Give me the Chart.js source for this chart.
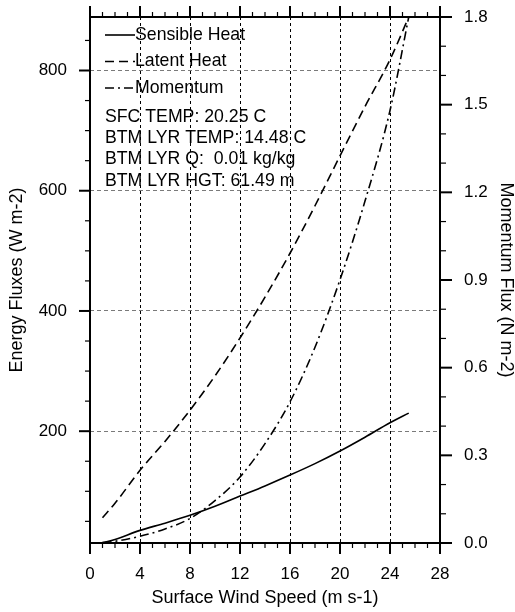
<!DOCTYPE html>
<html>
<head>
<meta charset="utf-8">
<script src="https://cdn.jsdelivr.net/npm/chart.js@4.4.0/dist/chart.umd.min.js"></script>
<style>
html, body { margin: 0; padding: 0; background: #fff; }
</style>
</head>
<body>
<canvas id="fluxChart" width="515" height="612"></canvas>
<script>
// values
var windSpeed    = [1, 2, 4, 6, 8, 10, 12, 14, 16, 18, 20, 22, 24, 25.5];
var sensibleHeat = [14, 20, 35, 47, 60, 75, 92, 109, 127, 146, 167, 190, 214, 230];
var latentHeat   = [56, 80, 135, 183, 235, 292, 355, 423, 496, 575, 658, 740, 818, 889];
var momentumFlux = [0.002, 0.006, 0.023, 0.048, 0.084, 0.145, 0.226, 0.34, 0.483, 0.67, 0.901, 1.17, 1.48, 1.8];

var seriesNames = ['Sensible Heat', 'Latent Heat', 'Momentum'];
var infoLines = ['SFC TEMP: 20.25 C', 'BTM LYR TEMP: 14.48 C', 'BTM LYR Q:  0.01 kg/kg', 'BTM LYR HGT: 61.49 m'];

var xTicks = [0, 4, 8, 12, 16, 20, 24, 28];
var leftTicks = [200, 400, 600, 800];
var rightTicks = [0.0, 0.3, 0.6, 0.9, 1.2, 1.5, 1.8];

var FONT = '"Liberation Sans", Arial, Helvetica, sans-serif';

function pts(ys) {
	return windSpeed.map(function(x, i) { return { x: x, y: ys[i] }; });
}

// fixed box sizes, no extra label overflow padding
function fixBox(w, h) {
	return function(s) {
		if (w) s.width = w;
		if (h) s.height = h;
		s.paddingTop = 0; s.paddingBottom = 0; s.paddingLeft = 0; s.paddingRight = 0;
	};
}

// frame, tick marks (major + minor) and the in-plot legend
var ncarStyle = {
	id: 'ncarStyle',
	afterDraw: function(chart) {
		var ctx = chart.ctx;
		var a = chart.chartArea;
		var sx = chart.scales.x, sl = chart.scales.y, sr = chart.scales.y1;
		ctx.save();
		ctx.strokeStyle = '#000';
		ctx.setLineDash([]);

		function tick(x1, y1, x2, y2, major) {
			ctx.lineWidth = major ? 2 : 1.2;
			ctx.beginPath();
			ctx.moveTo(x1, y1);
			ctx.lineTo(x2, y2);
			ctx.stroke();
		}
		// x: minor every 1, major every 4, bottom and top
		for (var v = 0; v <= 28; v++) {
			var px = sx.getPixelForValue(v);
			var mj = v % 4 === 0;
			var len = mj ? 11 : 5;
			tick(px, a.bottom, px, a.bottom + len, mj);
			tick(px, a.top, px, a.top - len, mj);
		}
		// left: minor every 50
		for (var e = 50; e <= 850; e += 50) {
			var py = sl.getPixelForValue(e);
			var m2 = e % 200 === 0;
			tick(a.left, py, a.left - (m2 ? 11 : 5), py, m2);
		}
		// right: minor every 0.1
		for (var i = 0; i <= 18; i++) {
			var pr = sr.getPixelForValue(i / 10);
			var m3 = i % 3 === 0;
			tick(a.right, pr, a.right + (m3 ? 12 : 6), pr, m3);
		}

		ctx.lineWidth = 2;
		ctx.strokeRect(a.left, a.top, a.right - a.left, a.bottom - a.top);

		// legend
		ctx.font = '17.7px ' + FONT;
		ctx.fillStyle = '#000';
		ctx.textBaseline = 'middle';
		ctx.textAlign = 'left';
		chart.data.datasets.forEach(function(ds, k) {
			var y = 35 + k * 26.5;
			ctx.lineWidth = ds.borderWidth;
			ctx.setLineDash(ds.borderDash || []);
			ctx.beginPath();
			ctx.moveTo(105, y);
			ctx.lineTo(135, y);
			ctx.stroke();
			ctx.setLineDash([]);
			ctx.fillText(ds.label, 135, y);
		});
		infoLines.forEach(function(t, k) {
			ctx.fillText(t, 105, 117 + k * 21.3);
		});
		ctx.restore();
	}
};

var ctxFlux = document.getElementById('fluxChart').getContext('2d');
var fluxChart = new Chart(ctxFlux, {
	type: 'line',
	data: {
		datasets: [{
			label: seriesNames[0],
			data: pts(sensibleHeat),
			borderColor: '#000',
			borderWidth: 1.6,
			borderDash: [],
			yAxisID: 'y'
		}, {
			label: seriesNames[1],
			data: pts(latentHeat),
			borderColor: '#000',
			borderWidth: 1.6,
			borderDash: [9, 5],
			yAxisID: 'y'
		}, {
			label: seriesNames[2],
			data: pts(momentumFlux),
			borderColor: '#000',
			borderWidth: 1.6,
			borderDash: [9, 4, 2, 4],
			yAxisID: 'y1'
		}]
	},
	options: {
		responsive: false,
		animation: false,
		devicePixelRatio: 1,
		cubicInterpolationMode: 'monotone',
		elements: { point: { radius: 0 }, line: { fill: false } },
		layout: { padding: { top: 17, left: 0, right: 0, bottom: 0 } },
		plugins: { legend: { display: false }, tooltip: { enabled: false } },
		scales: {
			x: {
				type: 'linear',
				min: 0, max: 28,
				afterBuildTicks: function(s) { s.ticks = xTicks.map(function(v) { return { value: v }; }); },
				afterFit: fixBox(0, 69),
				grid: {
					drawTicks: false,
					lineWidth: 1,
					color: function(c) { return (c.tick && (c.tick.value === 0 || c.tick.value === 28)) ? 'rgba(0,0,0,0)' : '#000'; }
				},
				border: { display: false, dash: [3, 3] },
				ticks: { color: '#000', padding: 21, maxRotation: 0, font: { family: FONT, size: 17 } },
				title: { display: true, text: 'Surface Wind Speed (m s-1)', color: '#000', padding: { top: 0, bottom: 5 }, font: { family: FONT, size: 18, lineHeight: 1 } }
			},
			y: {
				type: 'linear',
				position: 'left',
				min: 14, max: 889,
				afterBuildTicks: function(s) { s.ticks = leftTicks.map(function(v) { return { value: v }; }); },
				afterFit: fixBox(90, 0),
				grid: { drawTicks: false, lineWidth: 1, color: '#7a7a7a' },
				border: { display: false, dash: [4, 3] },
				ticks: { color: '#000', padding: 23, font: { family: FONT, size: 17 } },
				title: { display: true, text: 'Energy Fluxes (W m-2)', color: '#000', padding: { top: 8, bottom: 0 }, font: { family: FONT, size: 18, lineHeight: 1 } }
			},
			y1: {
				type: 'linear',
				position: 'right',
				min: 0, max: 1.8,
				afterBuildTicks: function(s) { s.ticks = rightTicks.map(function(v) { return { value: v }; }); },
				afterFit: fixBox(75, 0),
				grid: { drawOnChartArea: false, drawTicks: false },
				border: { display: false },
				ticks: {
					color: '#000', padding: 24, font: { family: FONT, size: 17 },
					callback: function(v) { return Number(v).toFixed(1); }
				},
				title: { display: true, text: 'Momentum Flux (N m-2)', color: '#000', padding: { top: 0, bottom: 0 }, font: { family: FONT, size: 18, lineHeight: 1 } }
			}
		}
	},
	plugins: [ncarStyle]
});
</script>
</body>
</html>
